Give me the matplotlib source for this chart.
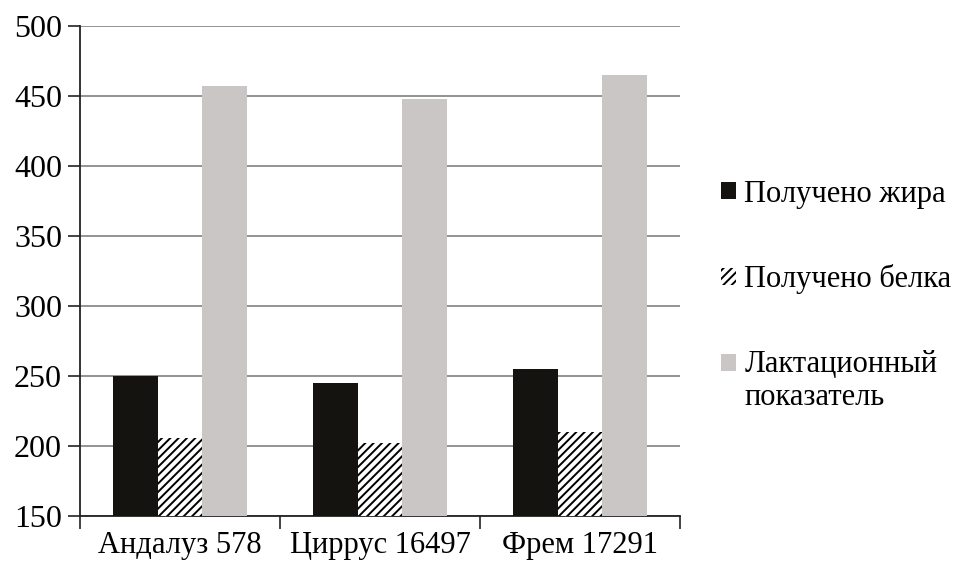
import matplotlib
matplotlib.use('Agg')
from matplotlib import pyplot as plt
from matplotlib.patches import Rectangle
from matplotlib.legend_handler import HandlerPatch
import numpy as np

categories = ['Андалуз 578', 'Циррус 16497', 'Фрем 17291']
fat = [250, 245, 255]
protein = [206, 202, 210]
lactation = [457, 448, 465]
series_labels = ['Получено жира', 'Получено белка', 'Лактационный\nпоказатель']
y_ticks = [150, 200, 250, 300, 350, 400, 450, 500]

plt.rcParams['font.family'] = ['Liberation Serif', 'DejaVu Serif']
plt.rcParams['hatch.linewidth'] = 1.4


# legend square sits on the first text line, not centred on the whole two-line label
def top_patch(legend, orig_handle, xdescent, ydescent, width, height, fontsize):
    p = Rectangle((-xdescent, -ydescent + 0.6 * fontsize), width, height)
    return p


fig = plt.figure(figsize=(9.78, 5.74), dpi=100)
ax = fig.add_axes([0.0818, 0.101, 0.6135, 0.8537])

x = np.arange(len(categories))
w = 0.2225
b1 = ax.bar(x - w, fat, w, color='#14130f', linewidth=0, zorder=3)
b2 = ax.bar(x, protein, w, color='white', edgecolor='black', hatch='////', linewidth=0, zorder=3)
b3 = ax.bar(x + w, lactation, w, color='#cac6c5', linewidth=0, zorder=3)

ax.set_ylim(150, 500)
ax.set_xlim(-0.5, 2.5)
ax.set_yticks(y_ticks)
ax.set_xticks(x)
ax.set_xticklabels(categories)
ax.set_xticks(np.arange(len(categories) + 1) - 0.5, minor=True)
ax.tick_params(axis='x', which='major', length=0, pad=11, labelsize=22)
ax.tick_params(axis='x', which='minor', length=9, width=1.2, color='#222222')
ax.tick_params(axis='y', length=9, width=1.2, color='#222222', pad=4, labelsize=23)
ax.yaxis.grid(True, color='#8a8a8a', linewidth=1.3, zorder=0)
ax.set_axisbelow(True)
for s in ['top', 'right']:
    ax.spines[s].set_visible(False)
ax.spines['left'].set_color('#222222')
ax.spines['left'].set_linewidth(1.3)
ax.spines['bottom'].set_color('#222222')
ax.spines['bottom'].set_linewidth(1.3)

h1, h2, h3 = b1.patches[0], b2.patches[0], b3.patches[0]
leg = fig.legend(handles=[h1, h2, h3], labels=series_labels, loc='upper left',
                 bbox_to_anchor=(0.7096, 0.735),
                 frameon=False, fontsize=22, handlelength=0.49, handleheight=0.49,
                 handletextpad=0.26, labelspacing=1.82,
                 handler_map={h3: HandlerPatch(patch_func=top_patch)})

plt.savefig('out.png', dpi=100)
